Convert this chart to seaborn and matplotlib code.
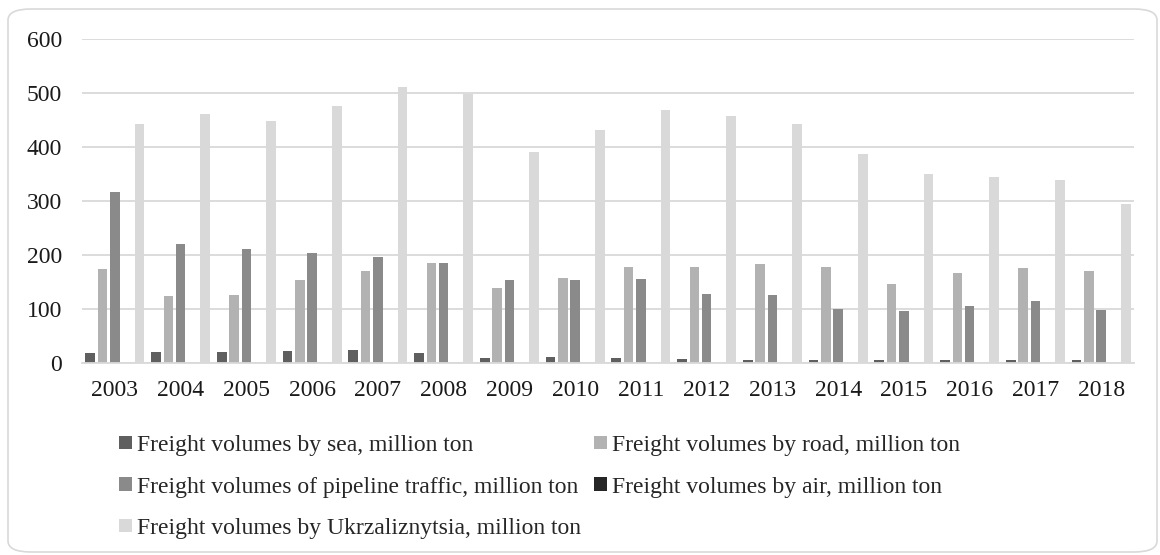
import pandas as pd
import seaborn as sns
import matplotlib.pyplot as plt
from matplotlib.patches import FancyBboxPatch, Patch

years = [str(y) for y in range(2003, 2019)]

sea = [19, 20, 21, 22, 24, 19, 9, 10.5, 9, 7, 5.5, 5.5, 5.5, 6, 5.5, 5]
road = [175, 124, 126, 154, 170, 186, 139, 158, 177, 178, 183, 178, 147, 166, 176, 171]
pipeline = [317, 220, 212, 204, 196, 186, 154, 153, 155, 128, 126, 100, 96, 106, 114, 98]
air = [0.1, 0.1, 0.1, 0.1, 0.1, 0.1, 0.1, 0.1, 0.1, 0.1, 0.1, 0.1, 0.1, 0.1, 0.1, 0.1]
ukrz = [443, 461, 448, 476, 511, 499, 391, 432, 468, 457, 442, 387, 350, 344, 339, 295]

labels = ["Freight volumes by sea, million ton",
          "Freight volumes by road, million ton",
          "Freight volumes of pipeline traffic, million ton",
          "Freight volumes by air, million ton",
          "Freight volumes by Ukrzaliznytsia, million ton"]
colors = ["#5f5f5f", "#b2b2b2", "#8a8a8a", "#262626", "#d9d9d9"]

# long format for seaborn
frames = []
for lab, vals in zip(labels, [sea, road, pipeline, air, ukrz]):
    frames.append(pd.DataFrame({"year": years, "value": vals, "series": lab}))
df = pd.concat(frames, ignore_index=True)

sns.set_style("white")
plt.rcParams['font.family'] = ['Liberation Serif', 'DejaVu Serif']

W, H = 1160, 555
fig = plt.figure(figsize=(W / 100, H / 100), dpi=100)
ax = fig.add_axes([82 / W, 1 - 363 / H, 1052 / W, 324 / H])

sns.barplot(data=df, x="year", y="value", hue="series", hue_order=labels,
            palette=colors, width=0.935, gap=0.22, ax=ax, legend=False,
            edgecolor="none", linewidth=0, errorbar=None)

ax.set_ylim(0, 600)
ax.set_yticks(range(0, 601, 100))
ax.set_xlim(-0.5, 15.5)
ax.set_xlabel("")
ax.set_ylabel("")
ax.yaxis.grid(True, color="#d9d9d9", linewidth=1.3)
ax.set_axisbelow(True)
for s in ["top", "left", "right"]:
    ax.spines[s].set_visible(False)
ax.spines["bottom"].set_color("#d9d9d9")
ax.spines["bottom"].set_linewidth(1.3)
ax.tick_params(axis="y", length=0, pad=14.4, labelsize=17, labelcolor="#1a1a1a")
ax.tick_params(axis="x", length=0, pad=12, labelsize=17, labelcolor="#1a1a1a")

# legend in two columns, placed separately to match the reference
handles = [Patch(facecolor=c, edgecolor="none") for c in colors]
leg_kw = dict(loc="upper left", frameon=False, fontsize=17,
              handlelength=0.55, handleheight=0.5, handletextpad=0.2,
              labelspacing=0.87, borderaxespad=0, borderpad=0)
leg1 = fig.legend([handles[0], handles[2], handles[4]],
                  [labels[0], labels[2], labels[4]],
                  bbox_to_anchor=(119 / W, 1 - 435 / H), **leg_kw)
leg2 = fig.legend([handles[1], handles[3]], [labels[1], labels[3]],
                  bbox_to_anchor=(594 / W, 1 - 435 / H), **leg_kw)

border = FancyBboxPatch((8 / W, 3 / H), 1149 / W, 543 / H,
                        boxstyle="round,pad=0,rounding_size=0.02",
                        transform=fig.transFigure, facecolor="none",
                        edgecolor="#d9d9d9", linewidth=1.2)
fig.patches.append(border)

fig.savefig("out.png", dpi=100)
